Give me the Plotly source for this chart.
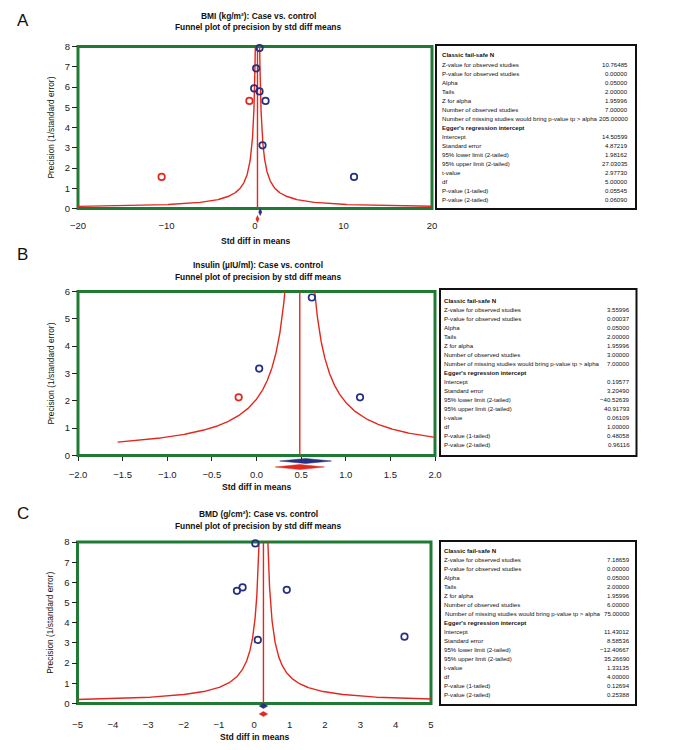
import numpy as np
import plotly.graph_objects as go

W, H = 680, 750
PAGE_OFFSET = 8  # the page body margin shifts the whole figure by 8 px
FONT = "Liberation Sans, Arial, sans-serif"
NAVY = "#262f80"
RED = "#e2271d"
GREEN = "#1f7a33"

# ---------------- data ----------------
panel_letters = ["A", "B", "C"]
panel_titles = ["BMI (kg/m²): Case vs. control",
                "Insulin (µIU/ml): Case vs. control",
                "BMD (g/cm²): Case vs. control"]
panel_subtitle = "Funnel plot of precision by std diff means"
x_title = "Std diff in means"
y_title = "Precision (1/standard error)"

# A: BMI
bmi_obs_x = [0.51, 0.13, -0.09, 0.51, 1.19, 0.85, 11.19]
bmi_obs_y = [7.92, 6.92, 5.93, 5.78, 5.31, 3.12, 1.56]
bmi_imp_x = [-0.63, -10.55]
bmi_imp_y = [5.31, 1.56]
bmi_obs_mean, bmi_obs_half = 0.59, 0.18
bmi_adj_mean, bmi_adj_half = 0.28, 0.18
bmi_funnel_z, bmi_prec_range = 1.96, [0.09, 8.0]
bmi_xticks = [-20, -10, 0, 10, 20]
bmi_yticks = [0, 1, 2, 3, 4, 5, 6, 7, 8]

# B: Insulin
ins_obs_x = [0.62, 0.03, 1.16]
ins_obs_y = [5.78, 3.18, 2.13]
ins_imp_x = [-0.20]
ins_imp_y = [2.13]
ins_obs_mean, ins_obs_half = 0.55, 0.29
ins_adj_mean, ins_adj_half = 0.485, 0.275
ins_funnel_z, ins_prec_range = 1.0, [0.49, 6.0]
ins_xticks = [-2.0, -1.5, -1.0, -0.5, 0.0, 0.5, 1.0, 1.5, 2.0]
ins_yticks = [0, 1, 2, 3, 4, 5, 6]

# C: BMD
bmd_obs_x = [0.03, -0.49, -0.33, 0.92, 0.10, 4.25]
bmd_obs_y = [7.93, 5.58, 5.75, 5.63, 3.15, 3.31]
bmd_imp_x = []
bmd_imp_y = []
bmd_obs_mean, bmd_obs_half = 0.26, 0.12
bmd_adj_mean, bmd_adj_half = 0.26, 0.12
bmd_funnel_z, bmd_prec_range = 1.0, [0.18, 8.0]
bmd_xticks = [-5, -4, -3, -2, -1, 0, 1, 2, 3, 4, 5]
bmd_yticks = [0, 1, 2, 3, 4, 5, 6, 7, 8]

table_labels = ["Classic fail-safe N", "Z-value for observed studies",
                "P-value for observed studies", "Alpha", "Tails", "Z for alpha",
                "Number of observed studies",
                "Number of missing studies would bring p-value tp > alpha",
                "Egger's regression intercept", "Intercept", "Standard error",
                "95% lower limit (2-tailed)", "95% upper limit (2-tailed)",
                "t-value", "df", "P-value (1-tailed)", "P-value (2-tailed)"]
table_bold = [0, 8]
bmi_table_values = ["", "10.76485", "0.00000", "0.05000", "2.00000", "1.95996", "7.00000",
                    "205.00000", "", "14.50599", "4.87219", "1.98162", "27.03035",
                    "2.97730", "5.00000", "0.05545", "0.06090"]
ins_table_values = ["", "3.55996", "0.00037", "0.05000", "2.00000", "1.95996", "3.00000",
                    "7.00000", "", "0.19577", "3.20490", "−40.52639", "40.91793",
                    "0.06109", "1.00000", "0.48058", "0.96116"]
bmd_table_values = ["", "7.18659", "0.00000", "0.05000", "2.00000", "1.95996", "6.00000",
                    "75.00000", "", "11.43012", "8.58536", "−12.40667", "35.26690",
                    "1.33135", "4.00000", "0.12694", "0.25388"]

panels = [
    dict(obs_x=bmi_obs_x, obs_y=bmi_obs_y, imp_x=bmi_imp_x, imp_y=bmi_imp_y,
         obs_mean=bmi_obs_mean, obs_half=bmi_obs_half, adj_mean=bmi_adj_mean, adj_half=bmi_adj_half,
         z=bmi_funnel_z, prec=bmi_prec_range, xticks=bmi_xticks, yticks=bmi_yticks,
         values=bmi_table_values, tickfmt="d",
         # layout (pixels on the final page)
         plot=(78, 432, 46.5, 208.5), table=(436, 636, 45, 209), text=(439.5, 630, 55),
         tick_y=227, xtitle_y=241, title_y=(16, 27), letter_y=20, dia_y=(212, 219), dia_h=(3.5, 3.5),
         xtick_len=0),
    dict(obs_x=ins_obs_x, obs_y=ins_obs_y, imp_x=ins_imp_x, imp_y=ins_imp_y,
         obs_mean=ins_obs_mean, obs_half=ins_obs_half, adj_mean=ins_adj_mean, adj_half=ins_adj_half,
         z=ins_funnel_z, prec=ins_prec_range, xticks=ins_xticks, yticks=ins_yticks,
         values=ins_table_values, tickfmt=".1f",
         plot=(78, 435, 291.5, 455.5), table=(440, 636.5, 289, 456), text=(442, 632, 300),
         tick_y=475, xtitle_y=487, title_y=(265, 276.5), letter_y=254, dia_y=(461, 467), dia_h=(2.5, 2.5),
         xtick_len=4),
    dict(obs_x=bmd_obs_x, obs_y=bmd_obs_y, imp_x=bmd_imp_x, imp_y=bmd_imp_y,
         obs_mean=bmd_obs_mean, obs_half=bmd_obs_half, adj_mean=bmd_adj_mean, adj_half=bmd_adj_half,
         z=bmd_funnel_z, prec=bmd_prec_range, xticks=bmd_xticks, yticks=bmd_yticks,
         values=bmd_table_values, tickfmt="d",
         plot=(77.5, 431, 542, 703.5), table=(440, 636, 541, 705), text=(442.5, 632, 550),
         tick_y=726, xtitle_y=737, title_y=(514, 526), letter_y=513, dia_y=(706, 714), dia_h=(2.5, 2.5),
         xtick_len=0),
]


def px_x(v):
    return (v - PAGE_OFFSET) / W


def px_y(v):
    return 1 - (v - PAGE_OFFSET) / H


fig = go.Figure()
annotations = []
shapes = []
layout_axes = {}

for i, p in enumerate(panels):
    n = "" if i == 0 else str(i + 1)
    xa, ya = "x" + n, "y" + n
    x0, x1, yt, yb = p["plot"]
    xr = [p["xticks"][0], p["xticks"][-1]]
    yr = [p["yticks"][0], p["yticks"][-1]]

    # funnel
    m = p["adj_mean"]
    prec = np.geomspace(p["prec"][0], p["prec"][1], 600)
    for sgn in (-1, 1):
        fig.add_trace(go.Scatter(x=m + sgn * p["z"] / prec, y=prec, mode="lines",
                                 line=dict(color=RED, width=1.4), xaxis=xa, yaxis=ya,
                                 hoverinfo="skip", showlegend=False))
    fig.add_trace(go.Scatter(x=[m, m], y=[yr[0], yr[1]], mode="lines",
                             line=dict(color=RED, width=1.4), xaxis=xa, yaxis=ya,
                             hoverinfo="skip", showlegend=False))
    # points
    fig.add_trace(go.Scatter(x=p["obs_x"], y=p["obs_y"], mode="markers",
                             marker=dict(symbol="circle-open", size=6.5, color=NAVY,
                                         line=dict(width=1.7, color=NAVY)),
                             xaxis=xa, yaxis=ya, cliponaxis=False, showlegend=False))
    if p["imp_x"]:
        fig.add_trace(go.Scatter(x=p["imp_x"], y=p["imp_y"], mode="markers",
                                 marker=dict(symbol="circle-open", size=6.5, color=RED,
                                             line=dict(width=1.7, color=RED)),
                                 xaxis=xa, yaxis=ya, cliponaxis=False, showlegend=False))

    layout_axes["xaxis" + n] = dict(
        domain=[px_x(x0), px_x(x1)], anchor=ya, range=xr, tickvals=p["xticks"],
        tickformat=p["tickfmt"], showgrid=False, zeroline=False, showline=False,
        automargin=False,
        ticks="outside" if p["xtick_len"] else "", ticklen=p["xtick_len"], tickcolor="#222",
        tickwidth=1, ticklabelstandoff=int(round(p["tick_y"] - yb - 9 - p["xtick_len"])),
        tickfont=dict(family=FONT, size=9.5, color="#222"), fixedrange=True)
    layout_axes["yaxis" + n] = dict(
        domain=[px_y(yb), px_y(yt)], anchor=xa, range=yr, tickvals=p["yticks"],
        showgrid=False, zeroline=False, showline=False, ticks="outside", ticklen=5,
        automargin=False,
        tickcolor="#222", tickwidth=1, ticklabelstandoff=0,
        tickfont=dict(family=FONT, size=9.5, color="#222"), fixedrange=True)

    # green frame
    shapes.append(dict(type="rect", xref=xa + " domain", yref=ya + " domain",
                       x0=0, x1=1, y0=0, y1=1, line=dict(color=GREEN, width=3), layer="below"))
    # diamonds (summary effects) below the axis
    for (cx, hw, col, ypx, hh) in [(p["obs_mean"], p["obs_half"], NAVY, p["dia_y"][0], p["dia_h"][0]),
                                   (p["adj_mean"], p["adj_half"], RED, p["dia_y"][1], p["dia_h"][1])]:
        yc = px_y(ypx)
        dh = hh / H
        path = (f"M {cx - hw},{yc} L {cx},{yc + dh} L {cx + hw},{yc} L {cx},{yc - dh} Z")
        shapes.append(dict(type="path", xref=xa, yref="paper", path=path,
                           fillcolor=col, line=dict(color=col, width=0.5), layer="above"))

    # table frame
    tx0, tx1, ty0, ty1 = p["table"]
    shapes.append(dict(type="rect", xref="paper", yref="paper", x0=px_x(tx0), x1=px_x(tx1),
                       y0=px_y(ty1), y1=px_y(ty0), line=dict(color="#111", width=2)))
    lx, rx, fy = p["text"]
    for k, lab in enumerate(table_labels):
        yy = px_y(fy + k * 9.05)
        txt = f"<b>{lab}</b>" if k in table_bold else lab
        annotations.append(dict(xref="paper", yref="paper", x=px_x(lx), y=yy, text=txt,
                                xanchor="left", yanchor="middle", showarrow=False,
                                font=dict(family=FONT, size=6.1, color="#111")))
        if p["values"][k]:
            annotations.append(dict(xref="paper", yref="paper", x=px_x(rx), y=yy, text=p["values"][k],
                                    xanchor="right", yanchor="middle", showarrow=False,
                                    font=dict(family=FONT, size=6.1, color="#111")))

    cx_plot = (x0 + x1) / 2
    # titles
    annotations.append(dict(xref="paper", yref="paper", x=px_x(258), y=px_y(p["title_y"][0]),
                            text=f"<b>{panel_titles[i]}</b>", showarrow=False,
                            xanchor="center", yanchor="middle",
                            font=dict(family=FONT, size=8.4, color="#111")))
    annotations.append(dict(xref="paper", yref="paper", x=px_x(258), y=px_y(p["title_y"][1]),
                            text=f"<b>{panel_subtitle}</b>", showarrow=False,
                            xanchor="center", yanchor="middle",
                            font=dict(family=FONT, size=8.4, color="#111")))
    # panel letter
    annotations.append(dict(xref="paper", yref="paper", x=px_x(22.5), y=px_y(p["letter_y"]),
                            text=panel_letters[i], showarrow=False, xanchor="center",
                            yanchor="middle", font=dict(family=FONT, size=17, color="#111")))
    # axis titles
    annotations.append(dict(xref="paper", yref="paper", x=px_x(cx_plot), y=px_y(p["xtitle_y"]),
                            text=f"<b>{x_title}</b>", showarrow=False, xanchor="center",
                            yanchor="middle", font=dict(family=FONT, size=8.6, color="#111")))
    annotations.append(dict(xref="paper", yref="paper", x=px_x(50), y=px_y((yt + yb) / 2),
                            text=y_title, showarrow=False, textangle=-90, xanchor="center",
                            yanchor="middle", font=dict(family=FONT, size=8.4, color="#111")))

fig.update_layout(
    width=W, height=H, margin=dict(l=0, r=0, t=0, b=0, autoexpand=False),
    paper_bgcolor="white", plot_bgcolor="white", showlegend=False,
    annotations=annotations, shapes=shapes, **layout_axes)

fig.write_html("out.html")
